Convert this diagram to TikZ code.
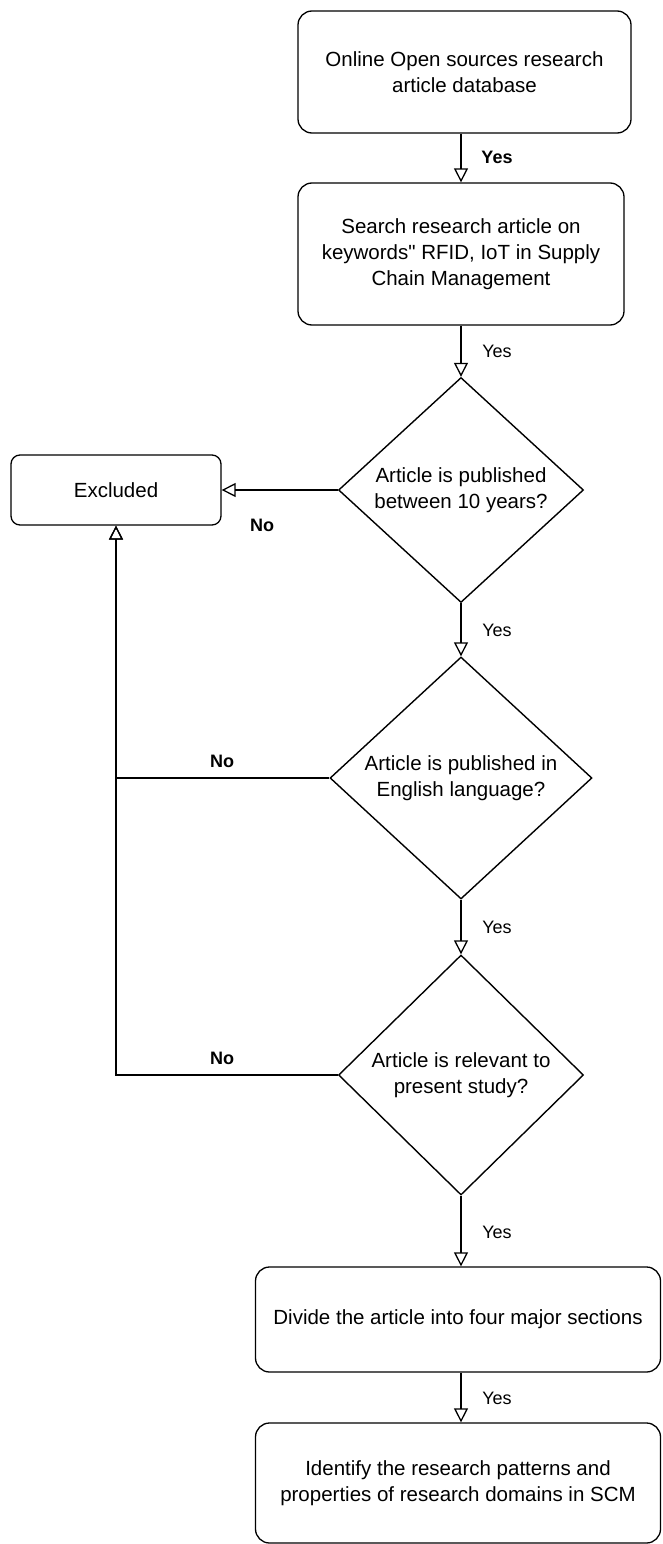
\documentclass[tikz,border=0pt]{standalone}
\usepackage{fontspec}
\setmainfont{Liberation Sans}
\newfontfamily\qfont{Liberation Sans}[Ligatures=TeXOff]
\usetikzlibrary{arrows.meta,shapes.geometric}
\tikzset{
  box/.style={draw=black, line width=1.3pt, rounded corners=14pt, inner sep=0pt, align=center, font=\fontsize{20.5}{26}\selectfont},
  dia/.style={draw=black, line width=1.4pt, diamond, inner sep=0pt},
  txt/.style={align=center, inner sep=0pt, font=\fontsize{20.5}{26}\selectfont},
  tip/.style={-{Triangle[open, length=14pt, width=14pt, line width=1.3pt]}},
  thin/.style={tip, line width=1.2pt},
  thick/.style={tip, line width=2.4pt},
  lab/.style={inner sep=0pt, font=\fontsize{18}{20}\selectfont},
  blab/.style={inner sep=0pt, font=\fontsize{18}{20}\selectfont\bfseries}
}
\begin{document}
\begin{tikzpicture}[x=1pt, y=-1pt]
\useasboundingbox (0,0) rectangle (662,1544);
\fill[white] (0,0) rectangle (662,1544);

\node[box, minimum width=333pt, minimum height=122pt] (b1) at (464.5,72) {Online Open sources research\\article database};
\node[box, minimum width=326pt, minimum height=142pt] (b2) at (461,254) {Search research article on\\keywords{\qfont"} RFID, IoT in Supply\\Chain Management};
\node[dia, minimum width=245pt, minimum height=225pt] (d1) at (461,490) {};
\node[txt] (t1) at (d1.center) {Article is published\\between 10 years?};
\node[box, rounded corners=9pt, minimum width=210pt, minimum height=70pt] (ex) at (116,490) {Excluded};
\node[dia, minimum width=262pt, minimum height=242pt] (d2) at (461,778) {};
\node[txt] (t2) at (d2.center) {Article is published in\\English language?};
\node[dia, minimum width=245pt, minimum height=240pt] (d3) at (461,1075) {};
\node[txt] (t3) at (d3.center) {Article is relevant to\\present study?};
\node[box, minimum width=405pt, minimum height=105pt] (b3) at (458,1319.5) {Divide the article into four major sections};
\node[box, minimum width=405pt, minimum height=120pt] (b4) at (458,1483) {Identify the research patterns and\\properties of research domains in SCM};

\draw[thin] (b2.north |- b1.south) -- (b2.north);
\draw[thick] (b2.south) -- (d1.north);
\draw[thick] (d1.south) -- (d2.north);
\draw[thick] (d2.south) -- (d3.north);
\draw[thick] (d3.south) -- (d3.south |- b3.north);
\draw[thick] (d3.south |- b3.south) -- (d3.south |- b4.north);

\draw[thin] (d1.west) -- (ex.east);
\draw[thin] (d2.west) -| (ex.south);
\draw[thin] (d3.west) -| (ex.south);

\node[blab] (y1) at (497,157) {Yes};
\node[lab] (y2) at (497,351) {Yes};
\node[lab] (y3) at (497,630) {Yes};
\node[lab] (y4) at (497,927) {Yes};
\node[lab] (y5) at (497,1232) {Yes};
\node[lab] (y6) at (497,1398) {Yes};
\node[blab] (n1) at (262,525) {No};
\node[blab] (n2) at (222,761) {No};
\node[blab] (n3) at (222,1058) {No};
\end{tikzpicture}
\end{document}
